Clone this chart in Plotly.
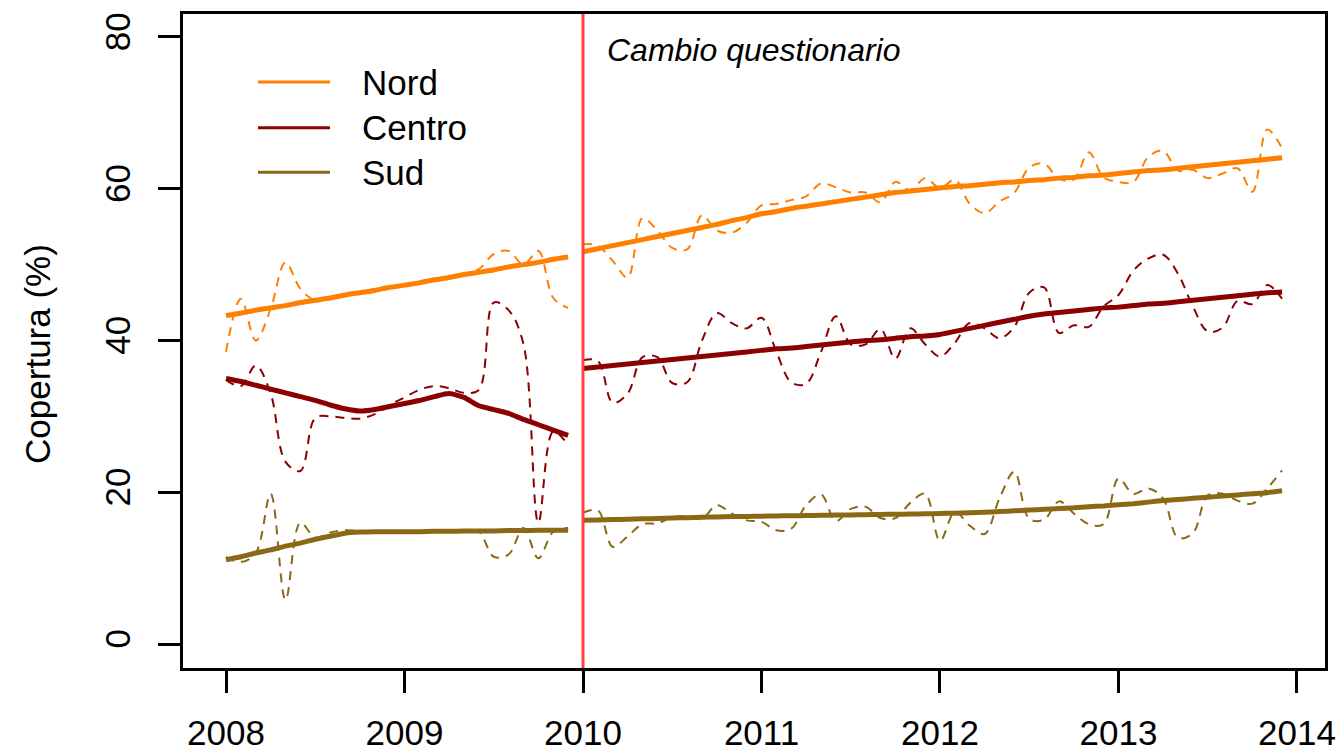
import plotly.graph_objects as go

# monthly observations, Jan 2008 - Dec 2009 (before) and Jan 2010 - Dec 2013 (after)
years_a = [2008, 2009]
years_b = [2010, 2011, 2012, 2013]

nord_obs_a = [38.5, 45.5, 40.0, 44.2, 50.3, 46.8, 45.3, 45.7, 46.1, 46.4, 46.8, 47.2,
              47.3, 47.7, 48.0, 48.2, 48.8, 49.4, 51.4, 51.8, 50.0, 51.8, 45.6, 44.3]
centro_obs_a = [34.8, 34.0, 36.7, 33.0, 24.0, 22.8, 29.8, 30.0, 29.8, 29.7, 30.3, 31.5,
                32.5, 33.5, 34.0, 33.7, 33.1, 33.5, 45.0, 44.0, 39.5, 16.0, 28.0, 26.2]
sud_obs_a = [11.5, 10.8, 12.0, 19.8, 5.8, 16.0, 14.0, 14.7, 15.0, 14.9, 14.8, 14.9,
             14.8, 14.9, 14.8, 14.9, 14.8, 14.8, 11.5, 11.8, 15.3, 11.3, 14.8, 15.3]

nord_obs_b = [52.7, 52.5, 50.5, 48.3, 56.1, 54.5, 52.2, 52.0, 56.5, 54.5, 54.2, 55.5,
              57.8, 58.0, 58.5, 59.0, 60.7, 60.2, 59.5, 59.5, 58.2, 60.9, 59.8, 61.4,
              60.1, 61.2, 58.0, 56.8, 58.3, 59.5, 62.8, 63.3, 61.3, 61.2, 64.8, 61.5,
              60.9, 60.9, 64.2, 65.0, 62.4, 62.5, 61.4, 62.0, 62.7, 59.6, 67.8, 65.3]
centro_obs_b = [37.4, 37.3, 31.8, 33.0, 37.8, 37.8, 34.4, 34.5, 40.0, 43.6, 42.3, 41.6,
                43.0, 38.5, 34.5, 34.3, 38.5, 43.2, 39.5, 39.5, 41.5, 37.6, 41.6, 39.5,
                37.9, 39.7, 42.3, 41.6, 40.3, 41.8, 46.3, 47.0, 41.0, 42.0, 41.8, 44.5,
                46.0, 49.2, 50.8, 51.3, 48.8, 44.5, 41.2, 41.7, 45.2, 44.8, 47.3, 45.5]
sud_obs_b = [17.3, 17.6, 12.8, 14.2, 15.8, 15.9, 16.7, 16.8, 16.5, 18.3, 17.2, 16.3,
             16.1, 15.0, 15.2, 18.3, 19.7, 16.2, 17.8, 18.1, 16.6, 16.6, 18.6, 19.8,
             13.6, 17.4, 15.6, 14.5, 19.2, 22.7, 16.5, 16.4, 18.8, 17.2, 15.8, 15.8,
             21.8, 19.8, 20.5, 19.2, 14.0, 14.6, 19.6, 19.8, 18.9, 18.5, 20.5, 22.9]

# smoothed trends
nord_trend_a = [43.3, 43.6, 44.0, 44.3, 44.6, 45.0, 45.3, 45.6, 46.0, 46.3, 46.6, 47.0,
                47.3, 47.6, 48.0, 48.3, 48.7, 49.0, 49.3, 49.7, 50.0, 50.3, 50.7, 51.0]
centro_trend_a = [35.0, 34.6, 34.1, 33.6, 33.1, 32.6, 32.1, 31.5, 31.0, 30.7, 30.9, 31.3,
                  31.7, 32.1, 32.6, 33.0, 32.5, 31.4, 30.9, 30.4, 29.6, 28.9, 28.2, 27.5]
sud_trend_a = [11.1, 11.5, 12.0, 12.4, 12.9, 13.3, 13.8, 14.2, 14.6, 14.75, 14.8, 14.8,
               14.8, 14.8, 14.85, 14.85, 14.9, 14.9, 14.9, 14.95, 14.95, 15.0, 15.0, 15.0]

nord_trend_b = [51.7, 52.1, 52.5, 52.9, 53.3, 53.7, 54.1, 54.5, 54.9, 55.3, 55.8, 56.2,
                56.7, 57.0, 57.4, 57.7, 58.0, 58.3, 58.6, 58.9, 59.2, 59.5, 59.7, 59.9,
                60.1, 60.3, 60.4, 60.6, 60.8, 60.9, 61.1, 61.2, 61.4, 61.5, 61.7, 61.8,
                62.0, 62.2, 62.4, 62.5, 62.7, 62.9, 63.1, 63.3, 63.5, 63.7, 63.9, 64.1]
centro_trend_b = [36.3, 36.5, 36.7, 36.9, 37.1, 37.3, 37.5, 37.7, 37.9, 38.1, 38.3, 38.5,
                  38.7, 38.9, 39.0, 39.2, 39.4, 39.6, 39.8, 40.0, 40.1, 40.3, 40.5, 40.6,
                  40.8, 41.2, 41.6, 42.0, 42.4, 42.8, 43.2, 43.5, 43.7, 43.9, 44.1, 44.3,
                  44.4, 44.6, 44.8, 44.9, 45.1, 45.3, 45.5, 45.7, 45.9, 46.1, 46.3, 46.4]
sud_trend_b = [16.3, 16.35, 16.4, 16.45, 16.5, 16.55, 16.6, 16.65, 16.7, 16.75, 16.8, 16.82,
               16.85, 16.88, 16.9, 16.93, 16.96, 17.0, 17.02, 17.05, 17.08, 17.1, 17.13, 17.16,
               17.2, 17.25, 17.3, 17.35, 17.45, 17.55, 17.65, 17.75, 17.85, 17.95, 18.1, 18.2,
               18.35, 18.5, 18.7, 18.9, 19.05, 19.2, 19.35, 19.5, 19.65, 19.8, 19.95, 20.2]

regions = ["Nord", "Centro", "Sud"]
colors = ["#FF7F00", "#8B0000", "#8B6914"]
break_year = 2010
tick_years = [2008, 2009, 2010, 2011, 2012, 2013, 2014]
y_ticks = [0, 20, 40, 60, 80]


def months(years):
    return [y + m / 12 for y in years for m in range(12)]


xa = months(years_a)
xb = months(years_b)

obs = {"Nord": (nord_obs_a, nord_obs_b), "Centro": (centro_obs_a, centro_obs_b),
       "Sud": (sud_obs_a, sud_obs_b)}
trend = {"Nord": (nord_trend_a, nord_trend_b), "Centro": (centro_trend_a, centro_trend_b),
         "Sud": (sud_trend_a, sud_trend_b)}

FONT = "Liberation Sans, Arial, sans-serif"
fig = go.Figure()

for reg, col in zip(regions, colors):
    for x, y in zip((xa, xb), obs[reg]):
        fig.add_trace(go.Scatter(x=x, y=y, mode="lines", showlegend=False,
                                 line=dict(color=col, width=2, dash="9px,7px",
                                           shape="spline", smoothing=1)))
    for x, y in zip((xa, xb), trend[reg]):
        fig.add_trace(go.Scatter(x=x, y=y, mode="lines", showlegend=False,
                                 line=dict(color=col, width=5, shape="spline", smoothing=0.6)))

fig.add_vline(x=break_year, line=dict(color="#FF4040", width=3))
fig.add_annotation(x=break_year, xref="x", y=0.945, yref="paper", xanchor="left",
                   yanchor="middle", xshift=22, showarrow=False,
                   text="<i>Cambio questionario</i>",
                   font=dict(family=FONT, size=32, color="black"))

# legend drawn by hand (long line samples like base R)
leg_y = [0.896, 0.826, 0.758]
for reg, col, ly in zip(regions, colors, leg_y):
    fig.add_shape(type="line", xref="paper", yref="paper", x0=0.0657, x1=0.1287,
                  y0=ly, y1=ly, line=dict(color=col, width=3))
    fig.add_annotation(x=0.155, y=ly, xref="paper", yref="paper", xanchor="left",
                       yanchor="middle", showarrow=False, text=reg,
                       font=dict(family=FONT, size=35, color="black"))

fig.add_annotation(x=-0.128, y=0.48, xref="paper", yref="paper", textangle=-90,
                   xanchor="center", yanchor="middle", showarrow=False,
                   text="Copertura (%)",
                   font=dict(family=FONT, size=35, color="black"))

axis_common = dict(showgrid=False, zeroline=False, showline=True, mirror=True,
                   linecolor="black", linewidth=2.5, ticks="outside", ticklen=22,
                   tickwidth=2.5, tickcolor="black", automargin=False,
                   tickfont=dict(family=FONT, size=35, color="black"))

fig.update_xaxes(range=[2007.759, 2014.157], tickvals=tick_years, ticklabelstandoff=10,
                 **axis_common)
fig.update_yaxes(range=[-3.16, 83.03], tickvals=y_ticks, tickangle=-90,
                 ticklabelstandoff=14, **axis_common)

fig.update_layout(width=1342, height=752, plot_bgcolor="white", paper_bgcolor="white",
                  margin=dict(l=183, r=17, t=14, b=84), showlegend=False,
                  font=dict(family=FONT))

fig.write_html("out.html", config={"displayModeBar": False},
               post_script="document.body.style.margin='0';document.body.style.overflow='hidden';")
